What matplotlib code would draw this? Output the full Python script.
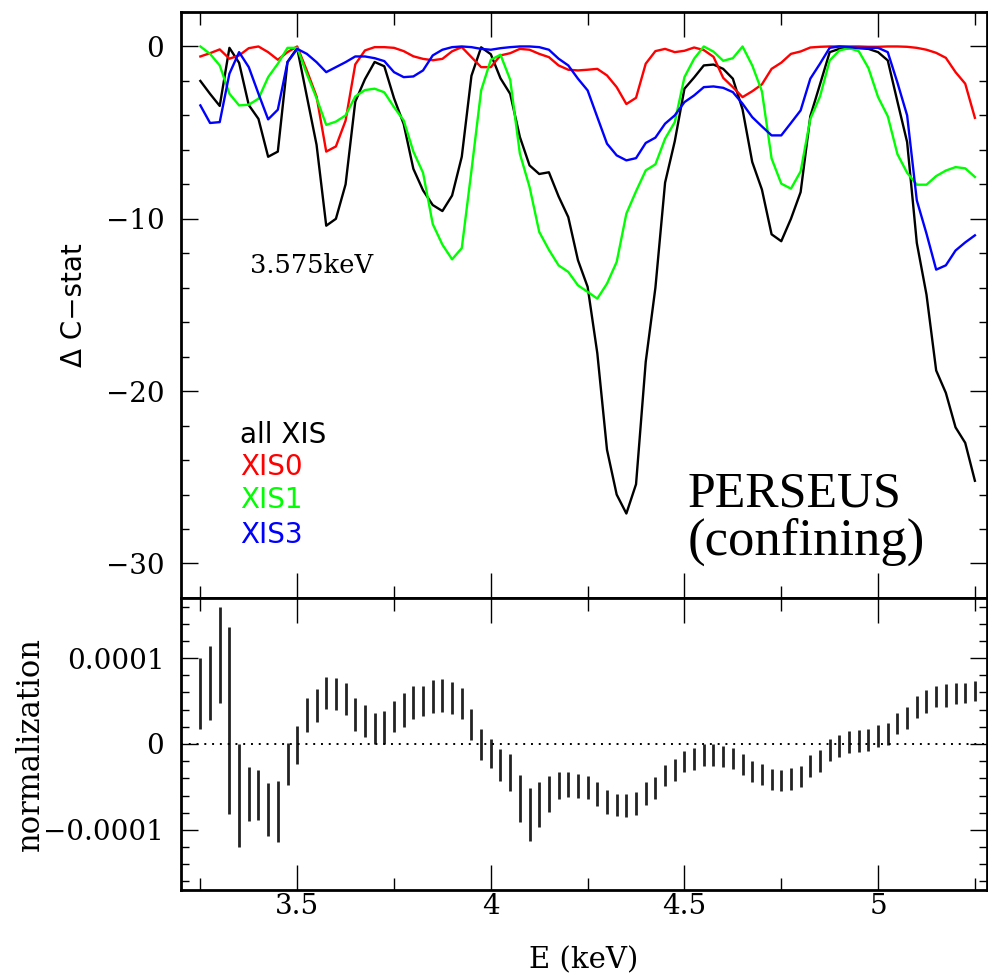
import matplotlib
matplotlib.use("Agg")
import matplotlib.pyplot as plt
from matplotlib.ticker import MultipleLocator, FixedLocator, FixedFormatter
import numpy as np

# energy grid (keV), 0.025 keV steps
E = np.arange(81) * 0.025 + 3.25

# delta C-stat curves
all_xis = [-2.0, -2.75, -3.45, -0.08, -0.95, -3.4, -4.2, -6.4, -6.1, -0.9,
           -0.1, -2.9, -5.7, -10.4, -10.0, -8.0, -3.2, -1.9, -0.9, -1.15,
           -3.0, -4.5, -7.1, -8.35, -9.2, -9.55, -8.65, -6.4, -1.7, -0.05,
           -0.45, -1.85, -2.75, -5.25, -6.9, -7.4, -7.3, -8.7, -9.9, -12.4,
           -13.95, -17.8, -23.4, -26.0, -27.1, -25.4, -18.3, -14.0, -7.9, -5.5,
           -2.45, -1.8, -1.1, -1.05, -1.3, -1.87, -3.65, -6.7, -8.3, -10.9,
           -11.3, -10.0, -8.45, -4.05, -2.2, -0.33, -0.14, -0.1, -0.1, -0.14,
           -0.33, -0.81, -3.2, -5.55, -11.4, -14.4, -18.8, -20.1, -22.1, -23.0,
           -25.2]
xis0 = [-0.58, -0.39, -0.17, -0.71, -0.52, -0.1, 0.0, -0.33, -0.77, -0.33,
        0.0, -1.4, -2.9, -6.1, -5.8, -4.3, -1.04, -0.23, -0.04, -0.04,
        -0.08, -0.27, -0.57, -0.72, -0.8, -0.72, -0.28, -0.04, -0.62, -1.2,
        -1.2, -0.52, -0.39, -0.14, -0.19, -0.43, -0.62, -1.1, -1.35, -1.39,
        -1.35, -1.3, -1.68, -2.36, -3.34, -2.98, -1.0, -0.27, -0.14, -0.33,
        -0.25, -0.06, -0.21, -0.6, -1.82, -2.36, -2.94, -2.6, -2.2, -1.3,
        -0.94, -0.43, -0.29, -0.06, -0.02, 0.0, 0.0, 0.0, 0.0, -0.02,
        -0.02, 0.0, 0.0, -0.02, -0.08, -0.19, -0.37, -0.66, -1.49, -2.16,
        -4.14]
xis1 = [0.0, -0.43, -1.1, -2.74, -3.42, -3.38, -3.03, -1.78, -1.0, -0.08,
        -0.08, -1.6, -3.0, -4.55, -4.36, -4.0, -2.9, -2.53, -2.45, -2.66,
        -3.52, -4.29, -6.1, -7.33, -10.3, -11.5, -12.35, -11.7, -7.2, -2.55,
        -0.77, -0.48, -1.93, -6.22, -8.15, -10.76, -11.8, -12.7, -13.08, -13.86,
        -14.24, -14.63, -13.76, -12.5, -9.7, -8.4, -7.19, -6.84, -5.35, -4.39,
        -1.78, -0.71, 0.0, -0.3, -0.83, -0.68, 0.0, -1.1, -2.6, -6.5,
        -7.96, -8.25, -7.25, -4.2, -2.9, -0.81, -0.23, -0.1, -0.27, -1.25,
        -2.94, -4.05, -6.25, -7.33, -8.02, -8.02, -7.52, -7.2, -7.0, -7.07,
        -7.57]
xis3 = [-3.42, -4.44, -4.39, -1.58, -0.33, -1.2, -2.74, -4.23, -3.67, -0.91,
        -0.14, -0.43, -0.91, -1.49, -1.2, -0.91, -0.58, -0.58, -0.68, -0.85,
        -1.49, -1.78, -1.74, -1.39, -0.52, -0.19, -0.04, 0.0, -0.04, -0.14,
        -0.19, -0.1, -0.04, 0.0, 0.0, -0.04, -0.19, -0.71, -1.1, -1.87,
        -2.55, -4.1, -5.64, -6.32, -6.61, -6.48, -5.6, -5.29, -4.48, -4.0,
        -3.23, -2.84, -2.36, -2.32, -2.4, -2.65, -3.32, -4.1, -4.64, -5.16,
        -5.16, -4.44, -3.71, -1.87, -1.0, -0.08, 0.0, -0.04, -0.08, -0.08,
        -0.08, -0.33, -2.1, -4.0, -8.93, -10.86, -12.95, -12.7, -11.84, -11.37,
        -10.96]

# normalization bars, upper and lower ends (units of 1e-4)
norm_hi = [1.006, 1.14, 1.594, 1.366, 0.0, -0.273, -0.304, -0.452, -0.433, 0.011,
           0.209, 0.535, 0.638, 0.778, 0.763, 0.706, 0.531, 0.448, 0.364, 0.38,
           0.497, 0.588, 0.672, 0.679, 0.74, 0.759, 0.721, 0.653, 0.41, 0.171,
           0.061, -0.057, -0.121, -0.36, -0.512, -0.444, -0.368, -0.323, -0.323, -0.349,
           -0.376, -0.444, -0.531, -0.577, -0.584, -0.558, -0.444, -0.38, -0.243, -0.178,
           -0.083, -0.046, 0.004, 0.004, -0.019, -0.049, -0.121, -0.197, -0.235, -0.292,
           -0.3, -0.281, -0.254, -0.129, -0.072, 0.057, 0.099, 0.152, 0.163, 0.171,
           0.22, 0.25, 0.364, 0.429, 0.554, 0.626, 0.676, 0.694, 0.706, 0.713,
           0.732]
norm_lo = [0.17, 0.277, 0.474, -0.816, -1.203, -0.899, -0.888, -1.07, -1.139, -0.482,
           -0.228, 0.137, 0.254, 0.41, 0.398, 0.342, 0.156, 0.076, 0.0, 0.004,
           0.137, 0.201, 0.292, 0.326, 0.36, 0.372, 0.353, 0.285, 0.049, -0.186,
           -0.285, -0.433, -0.546, -0.911, -1.135, -0.968, -0.797, -0.641, -0.622, -0.626,
           -0.641, -0.717, -0.812, -0.843, -0.854, -0.831, -0.71, -0.641, -0.493, -0.436,
           -0.33, -0.304, -0.254, -0.254, -0.273, -0.292, -0.361, -0.444, -0.482, -0.539,
           -0.55, -0.531, -0.501, -0.38, -0.323, -0.197, -0.152, -0.102, -0.095, -0.083,
           -0.034, -0.008, 0.114, 0.175, 0.307, 0.36, 0.429, 0.436, 0.467, 0.474,
           0.497]

serif = ["DejaVu Serif"]
times = ["Liberation Serif", "DejaVu Serif"]
sans = ["DejaVu Sans"]

fig = plt.figure(figsize=(9.88, 9.75), dpi=100)
ax1 = fig.add_axes([0.1832, 0.3867, 0.8153, 0.601])
ax2 = fig.add_axes([0.1832, 0.0872, 0.8153, 0.2995], sharex=ax1)

ax1.plot(E, all_xis, color="black", lw=1.7)
ax1.plot(E, xis0, color="#ff0000", lw=1.7)
ax1.plot(E, xis1, color="#00ff00", lw=1.7)
ax1.plot(E, xis3, color="#0000ff", lw=1.7)

ax1.text(3.378, -12.7, "3.575keV", fontsize=18.5, family=serif, va="center")
ax1.text(3.352, -22.55, "all XIS", fontsize=20, family=sans, color="black", va="center")
ax1.text(3.352, -24.4, "XIS0", fontsize=20, family=sans, color="#ff0000", va="center")
ax1.text(3.352, -26.3, "XIS1", fontsize=20, family=sans, color="#00ff00", va="center")
ax1.text(3.352, -28.35, "XIS3", fontsize=20, family=sans, color="#0000ff", va="center")
ax1.text(4.507, -26.0, "PERSEUS", fontsize=36, family=times, va="center")
ax1.text(4.507, -28.75, "(confining)", fontsize=38, family=times, va="center")

ax1.set_xlim(3.2, 5.28)
ax1.set_ylim(-32, 2)
ax1.yaxis.set_major_locator(FixedLocator([0, -10, -20, -30]))
ax1.yaxis.set_major_formatter(FixedFormatter(["0", "\u221210", "\u221220", "\u221230"]))
ax1.yaxis.set_minor_locator(MultipleLocator(2))
ax1.set_ylabel("\u0394 C\u2212stat", fontsize=20, family=sans)
ax1.yaxis.set_label_coords(-0.115, 0.5)
ax1.tick_params(labelbottom=False)

ax2.vlines(E, np.array(norm_lo) * 1e-4, np.array(norm_hi) * 1e-4, color="#222222", lw=2)
ax2.axhline(0, color="black", lw=1.4, ls=(0, (1, 3)))
ax2.set_ylim(-1.7e-4, 1.7e-4)
ax2.yaxis.set_major_locator(FixedLocator([-1e-4, 0, 1e-4]))
ax2.yaxis.set_major_formatter(FixedFormatter(["\u22120.0001", "0", "0.0001"]))
ax2.yaxis.set_minor_locator(MultipleLocator(2e-5))
ax2.set_ylabel("normalization", fontsize=22, family=serif)
ax2.yaxis.set_label_coords(-0.168, 0.5)
ax2.xaxis.set_major_locator(FixedLocator([3.5, 4.0, 4.5, 5.0]))
ax2.xaxis.set_major_formatter(FixedFormatter(["3.5", "4", "4.5", "5"]))
ax2.xaxis.set_minor_locator(MultipleLocator(0.25))
ax2.set_xlabel("E (keV)", fontsize=21, family=serif, labelpad=19)

for ax in (ax1, ax2):
    for sp in ax.spines.values():
        sp.set_linewidth(2.0)
    ax.tick_params(which="both", direction="in", top=True, right=True,
                   width=1.0, labelsize=20, pad=12)
    ax.tick_params(which="major", length=12)
    ax.tick_params(which="minor", length=6)
    for lab in ax.get_xticklabels() + ax.get_yticklabels():
        lab.set_family(serif)
for ax in (ax1, ax2):
    ax.tick_params(axis="x", which="major", length=18)
    ax.tick_params(axis="x", which="minor", length=9)
ax2.tick_params(axis="x", which="both", pad=2)

fig.savefig("out.png", dpi=100)
